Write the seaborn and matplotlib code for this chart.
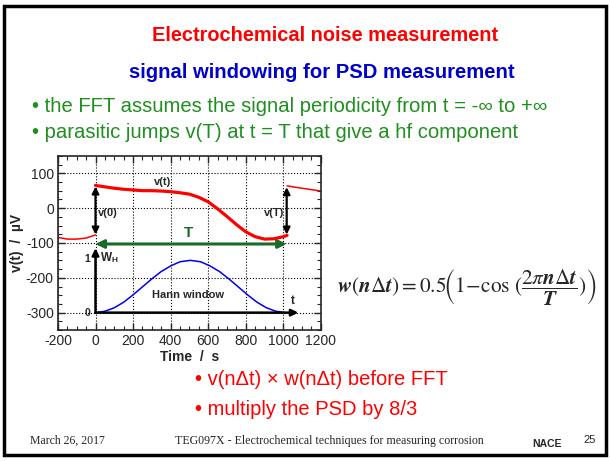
import matplotlib
matplotlib.use("Agg")
import matplotlib.pyplot as plt
from matplotlib.patches import Rectangle
from matplotlib.ticker import MultipleLocator
import seaborn as sns
import pandas as pd

# data
t_main = [0, 50, 100, 150, 200, 250, 300, 350, 400, 450, 500, 550, 600, 650,
          700, 750, 800, 850, 900, 950, 1000, 1020]
v_main = [65, 61, 57, 54, 52, 50, 50, 49, 47, 44, 40, 31, 18, -2,
          -24, -47, -68, -82, -89, -88, -82, -78]
t_left = [-200, -150, -100, -50, 0]
v_left = [-84, -89, -89, -86, -77]
t_right = [1020, 1050, 1100, 1150, 1200]
v_right = [64, 61, 57, 53, 49]
t_hann = [0, 50, 100, 150, 200, 250, 300, 350, 400, 450, 505, 560, 610,
          660, 710, 760, 810, 860, 910, 960, 1010]
v_hann = [-300, -296, -286, -270, -249, -226, -203, -182, -166, -154, -150,
          -154, -166, -182, -203, -226, -249, -270, -286, -296, -300]

xticks = [-200, 0, 200, 400, 600, 800, 1000, 1200]
yticks = [-300, -200, -100, 0, 100]

sns.set_style("ticks")
plt.rcParams['font.family'] = ['Liberation Sans', 'DejaVu Sans']
plt.rcParams['mathtext.fontset'] = 'stix'
plt.rcParams['axes.unicode_minus'] = False

fig = plt.figure(figsize=(6.1, 4.61), dpi=100)

# slide frame
fig.patches.append(Rectangle((0.006, 0.013), 0.988, 0.975, transform=fig.transFigure,
                             fill=False, edgecolor='black', linewidth=2.5))

fig.text(0.533, 0.924, "Electrochemical noise measurement", color='#ff0000',
         fontsize=14.4, fontweight='bold', ha='center', va='center')
fig.text(0.528, 0.843, "signal windowing for PSD measurement", color='#0000cc',
         fontsize=14.6, fontweight='bold', ha='center', va='center')
fig.text(0.052, 0.768, "\u2022 the FFT assumes the signal periodicity from t = -\u221e to +\u221e",
         color='#1f8f1f', fontsize=14.6, ha='left', va='center')
fig.text(0.052, 0.713, "\u2022 parasitic jumps v(T) at t = T that give a hf component",
         color='#1f8f1f', fontsize=14.6, ha='left', va='center')

ax = fig.add_axes([0.095, 0.284, 0.431, 0.378])

df_main = pd.DataFrame({'t': t_main, 'v': v_main})
sns.lineplot(data=df_main, x='t', y='v', color='#ff0000', linewidth=2.3, ax=ax, sort=False)
sns.lineplot(x=t_left, y=v_left, color='#ff0000', linewidth=1.1, ax=ax, sort=False)
sns.lineplot(x=t_right, y=v_right, color='#ff0000', linewidth=1.1, ax=ax, sort=False)
sns.lineplot(x=t_hann, y=v_hann, color='#0000ee', linewidth=1.1, ax=ax, sort=False)

ax.set_xlim(-200, 1200)
ax.set_ylim(-350, 150)
ax.set_xticks(xticks)
ax.set_yticks(yticks)
ax.xaxis.set_minor_locator(MultipleLocator(50))
ax.yaxis.set_minor_locator(MultipleLocator(25))
ax.tick_params(which='both', direction='in', top=True, right=True, labelsize=10, pad=3)
ax.tick_params(which='major', length=5, width=1)
ax.tick_params(which='minor', length=3, width=0.8)
ax.grid(True, which='major', linestyle=':', color='black', linewidth=0.8)
for s in ax.spines.values():
    s.set_linewidth(1.2)
ax.set_xlabel("Time  /  s", fontsize=10, fontweight='bold', labelpad=1)
ax.set_ylabel("v(t)  /  \u00b5V", fontsize=10, fontweight='bold', labelpad=1)

# annotations
blk = dict(arrowstyle='-|>', color='black', lw=1.8, mutation_scale=10, shrinkA=0, shrinkB=0)
ax.annotate('', xy=(1080, -300), xytext=(0, -300), arrowprops=blk)
ax.annotate('', xy=(0, -115), xytext=(0, -300), arrowprops=blk)
dbl = dict(arrowstyle='<|-|>', color='black', lw=1.6, mutation_scale=10, shrinkA=0, shrinkB=0)
ax.annotate('', xy=(0, 62), xytext=(0, -76), arrowprops=dbl)
ax.annotate('', xy=(1018, 60), xytext=(1018, -76), arrowprops=dbl)
grn = dict(arrowstyle='<|-|>', color='#1a6b2a', lw=2.2, mutation_scale=12, shrinkA=0, shrinkB=0)
ax.annotate('', xy=(1018, -103), xytext=(0, -103), arrowprops=grn)

ax.text(15, -14, "v(0)", fontsize=8, fontweight='bold', ha='left', va='center')
ax.text(1005, -14, "v(T)", fontsize=8, fontweight='bold', ha='right', va='center')
ax.text(355, 74, "v(t)", fontsize=8, fontweight='bold', ha='center', va='center')
ax.text(495, -72, "T", fontsize=11, fontweight='bold', color='#1a6b2a', ha='center', va='center')
ax.text(490, -250, "Hann window", fontsize=8, fontweight='bold', ha='center', va='center')
ax.text(1050, -268, "t", fontsize=8.5, fontweight='bold', ha='center', va='center')
ax.text(-45, -146, "1", fontsize=7.5, fontweight='bold', ha='center', va='center')
ax.text(-45, -300, "0", fontsize=7.5, fontweight='bold', ha='center', va='center')
ax.text(25, -143, "W$_\\mathregular{H}$", fontsize=8.5, fontweight='bold', ha='left', va='center')

# Hann window formula
fig.text(0.766, 0.377,
         r"$\mathbfit{w}(\mathbfit{n}\Delta\mathbfit{t}) = 0.5\!\left(1\!-\!\cos\,(\dfrac{2\pi\mathbfit{n}\Delta\mathbfit{t}}{\mathbfit{T}})\right)$",
         fontsize=15.3, ha='center', va='center')

fig.text(0.32, 0.176, "\u2022 v(n\u0394t) \u00d7 w(n\u0394t) before FFT", color='#ff0000',
         fontsize=14.5, ha='left', va='center')
fig.text(0.32, 0.111, "\u2022 multiply the PSD by 8/3", color='#ff0000',
         fontsize=14.5, ha='left', va='center')

fig.text(0.049, 0.043, "March 26, 2017", family='Liberation Serif', fontsize=8.5,
         ha='left', va='center')
fig.text(0.287, 0.043, "TEG097X - Electrochemical techniques for measuring corrosion",
         family='Liberation Serif', fontsize=8.6, ha='left', va='center')
fig.text(0.897, 0.036, "NACE", fontsize=7.5, fontweight='bold', ha='center', va='center')
fig.text(0.967, 0.045, "25", fontsize=8, ha='center', va='center')

fig.savefig("out.png", dpi=100)
